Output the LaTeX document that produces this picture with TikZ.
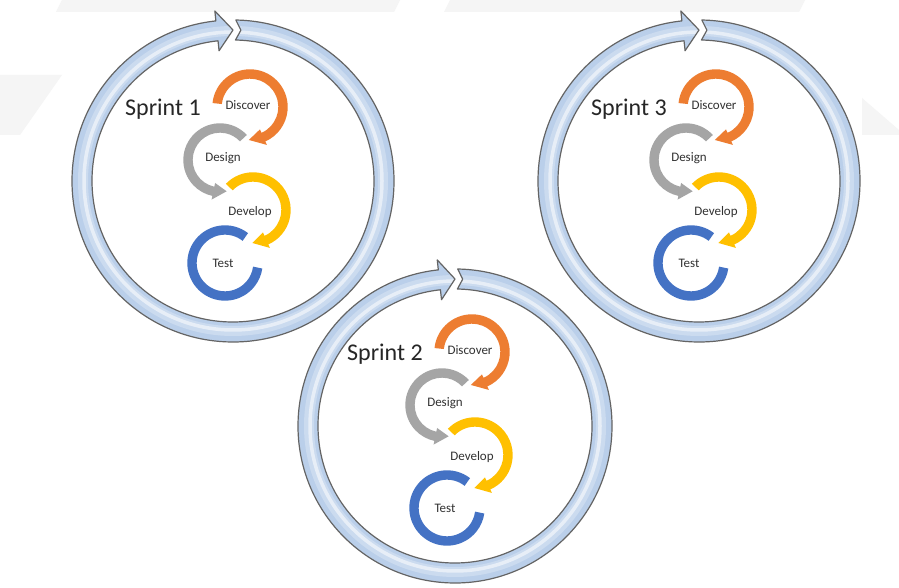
\documentclass[tikz,border=0pt]{standalone}
\usepackage{fontspec}
\setmainfont{Carlito}
\definecolor{cOrange}{RGB}{237,125,49}
\definecolor{cGray}{RGB}{165,165,165}
\definecolor{cYellow}{RGB}{255,192,0}
\definecolor{cBlue}{RGB}{68,114,196}
\definecolor{bandFill}{RGB}{186,207,234}
\definecolor{bandLine}{RGB}{100,100,100}
\definecolor{wmark}{RGB}{245,245,245}
\definecolor{lblText}{RGB}{50,50,50}
\definecolor{sprText}{RGB}{38,38,38}

% circular arrow: #1 style, #2 mid radius, #3 half width, #4 head half width, #5 start, #6 body end, #7 tip
\newcommand\CircArrow[7]{%
  \path[#1] (#5:{#2+#3}) arc[start angle=#5, end angle=#6, radius={#2+#3}]
    -- (#6:{#2+#4}) -- (#7:#2) -- (#6:{#2-#4}) -- (#6:{#2-#3})
    arc[start angle=#6, end angle=#5, radius={#2-#3}] -- cycle;}

% big band: #1 style, #2 outer radius
\newcommand\BandPath[2]{%
  \path[#1] (89:{#2}) arc[start angle=89, end angle=-263.9, radius={#2}]
    -- (-263.9:{#2+10}) -- (-270:{#2-10}) -- (-263.9:{#2-30}) -- (-263.9:{#2-20})
    arc[start angle=-263.9, end angle=89, radius={#2-20}] -- (87:{#2-10}) -- cycle;}

\newcommand\SprintCycle[2]{% #1 number, #2 outer radius
  \BandPath{fill=bandFill}{#2}
  \begin{scope}
    \BandPath{clip}{#2}
    \draw[white, opacity=.25, line width=10] (0,0) circle[radius={#2-11}];
    \draw[white, opacity=.55, line width=3.5] (0,0) circle[radius={#2-12}];
  \end{scope}
  \BandPath{draw=bandLine, line width=1.2, line join=round}{#2}
  \begin{scope}[shift={(17,74)}]
    \CircArrow{fill=cOrange}{33}{4.7}{8.5}{174}{-66}{-92}
  \end{scope}
  \begin{scope}[shift={(-13,21)}]
    \CircArrow{fill=cGray}{32}{4.7}{8.5}{43}{258}{282}
  \end{scope}
  \begin{scope}[shift={(20,-29)}]
    \CircArrow{fill=cYellow}{33}{4.7}{8.5}{136}{-66}{-91}
  \end{scope}
  \begin{scope}[shift={(-8,-82)}]
    \draw[cBlue, line width=9.4] (52:33) arc[start angle=52, end angle=352, radius=33];
  \end{scope}
  \node[sprint] (sprint#1) at (-108,65) {Sprint #1};
  \node[lbl] (disc#1) at (15,76) {Discover};
  \node[lbl] (desi#1) at (-10,23) {Design};
  \node[lbl] (deve#1) at (17,-31) {Develop};
  \node[lbl] (test#1) at (-10,-82) {Test};
}

\begin{document}
\begin{tikzpicture}[x=1pt, y=1pt,
  sprint/.style={anchor=base west, inner sep=0pt, text=sprText, font=\fontsize{24}{28}\selectfont},
  lbl/.style={inner sep=0pt, text=lblText, font=\fontsize{13}{15}\selectfont}]
\useasboundingbox (0,0) rectangle (899,588);
\fill[white] (0,0) rectangle (899,588);
% faint watermark shapes
\fill[wmark] (62,588) -- (400,588) -- (394,576) -- (56,576) -- cycle;
\fill[wmark] (450,588) -- (805,588) -- (799,576) -- (444,576) -- cycle;
\fill[wmark] (0,513) -- (62,513) -- (20,453) -- (0,453) -- cycle;
\fill[wmark] (862,490) -- (899,458) -- (899,453) -- (862,453) -- cycle;

\begin{scope}[shift={(233,407)}]
  \SprintCycle{1}{161}
\end{scope}
\begin{scope}[shift={(699,407)}]
  \SprintCycle{3}{161}
\end{scope}
\begin{scope}[shift={(455,162)}]
  \SprintCycle{2}{157}
\end{scope}
\end{tikzpicture}
\end{document}
